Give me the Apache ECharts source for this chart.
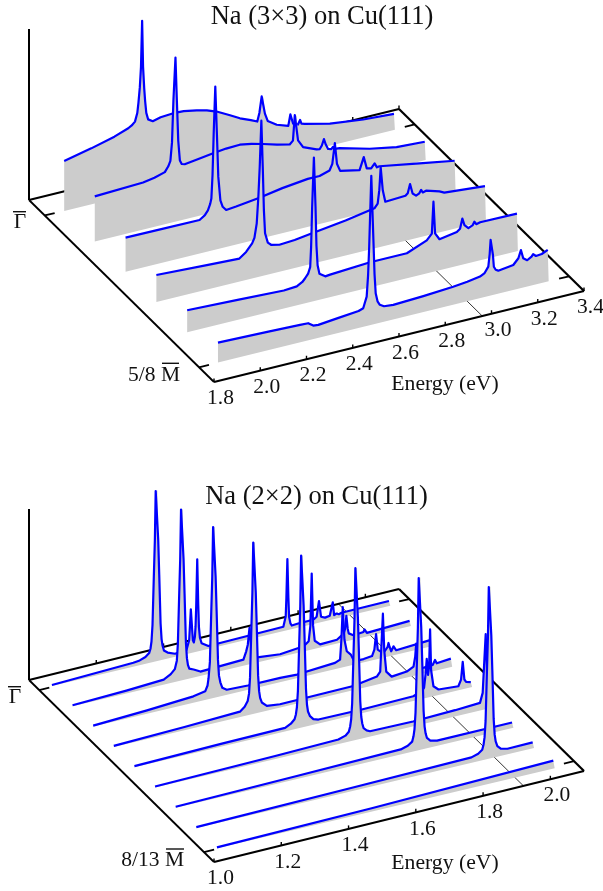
<!DOCTYPE html>
<html>
<head>
<meta charset="utf-8">
<style>html,body{margin:0;padding:0;background:#fff}#chart{width:603px;height:891px}</style>
<script src="https://cdn.jsdelivr.net/npm/echarts@6/dist/echarts.min.js"></script>
</head>
<body>
<div id="chart"></div>
<script>
// each curve is a list of [energy in eV, intensity in a.u.]
var na3x3Curve1 = [[1.883,50],[2.000,56],[2.100,62],[2.160,67],[2.175,69],[2.189,72],[2.199,80],[2.204,90],[2.210,105],[2.215,125],[2.220,171],[2.224,125],[2.229,103],[2.233,90],[2.238,78],[2.246,71],[2.266,68],[2.300,70],[2.355,71],[2.400,70.5],[2.456,68],[2.500,65.5],[2.542,62],[2.600,55],[2.643,49.5],[2.690,45],[2.718,42],[2.727,50],[2.737,66],[2.744,65],[2.751,48],[2.763,40],[2.802,34],[2.852,30],[2.861,41],[2.873,31],[2.894,29],[2.903,33],[2.909,29],[2.916,30],[2.924,28],[3.032,22],[3.176,18],[3.309,16]];
var na3x3Curve2 = [[1.882,45],[2.091,47],[2.140,49],[2.185,52],[2.200,57],[2.209,62],[2.216,80],[2.222,121],[2.231,164],[2.237,121],[2.243,80],[2.250,60],[2.258,56],[2.271,55],[2.330,57],[2.394,59],[2.450,60.5],[2.509,61],[2.560,59],[2.610,56],[2.670,52],[2.725,49],[2.739,52],[2.747,77],[2.755,76],[2.761,51],[2.783,43],[2.841,37.5],[2.855,37],[2.864,40],[2.873,46],[2.881,40],[2.891,35],[2.905,34],[2.912,36],[2.920,33.5],[2.941,33],[3.071,25],[3.187,20],[3.309,18.5]];
var na3x3Curve3 = [[1.882,34],[2.050,33.7],[2.202,33.5],[2.225,37],[2.238,41],[2.248,47],[2.253,52],[2.258,75],[2.263,116],[2.270,163],[2.277,115],[2.283,72],[2.292,48],[2.302,41],[2.317,37],[2.360,38],[2.461,41],[2.560,45],[2.670,48],[2.721,48],[2.764,51],[2.776,57],[2.787,77],[2.796,56],[2.810,48],[2.894,44],[2.912,56],[2.925,44],[2.944,43],[2.959,47],[2.969,42.5],[2.980,43],[3.153,36],[3.305,30]];
var na3x3Curve4 = [[1.882,27],[2.100,24.5],[2.241,23],[2.270,28],[2.296,35],[2.306,40],[2.316,54],[2.323,80],[2.329,110],[2.336,155.5],[2.342,109],[2.347,65],[2.352,42],[2.364,32],[2.378,29],[2.414,27],[2.480,28],[2.544,30],[2.700,35],[2.825,40],[2.839,44],[2.846,57],[2.852,79.5],[2.861,56],[2.872,44],[2.959,45],[2.969,47],[2.979,55.5],[2.990,45.5],[3.005,42.5],[3.019,44],[3.027,47],[3.034,44],[3.048,45],[3.106,41],[3.127,38.5],[3.303,35]];
var na3x3Curve5 = [[1.882,22],[2.100,20],[2.300,18],[2.356,19],[2.380,22],[2.392,25],[2.405,29],[2.414,35],[2.418,55],[2.4225,95],[2.430,143.5],[2.437,94],[2.441,55],[2.446,35],[2.454,26],[2.479,22],[2.500,22.5],[2.673,25],[2.832,25],[2.918,33],[2.940,38.5],[2.947,70],[2.954,38],[2.973,31],[3.048,34],[3.062,36.5],[3.072,46],[3.081,39],[3.098,35],[3.117,37],[3.124,40],[3.132,37],[3.149,38],[3.308,37.5]];
var na3x3Curve6 = [[1.882,20],[2.100,18.5],[2.237,17.5],[2.272,17.2],[2.294,13.6],[2.316,13],[2.400,15],[2.490,17],[2.510,18.6],[2.525,29.4],[2.531,50],[2.536,79],[2.545,149],[2.555,78],[2.559,50],[2.564,30.6],[2.572,22],[2.582,18],[2.600,15.5],[2.640,14.6],[2.770,16],[2.899,18],[2.960,19.5],[3.015,21.6],[3.035,24],[3.051,29.5],[3.057,42],[3.061,55.6],[3.067,55.3],[3.071,40],[3.075,28],[3.083,24.5],[3.094,23],[3.159,25],[3.181,30.5],[3.192,38],[3.202,29.3],[3.219,26.3],[3.238,28.8],[3.245,31],[3.257,28.4],[3.282,29],[3.308,31.6]];

var na2x2Curve1 = [[1.040,1],[1.282,3.3],[1.301,4],[1.318,6],[1.329,9],[1.333,13],[1.336,20],[1.339,36],[1.343,85],[1.346,120],[1.3485,169.5],[1.3535,169.5],[1.356,120],[1.359,85],[1.363,36],[1.366,20],[1.369,13],[1.373,8],[1.384,5],[1.406,2],[1.440,3],[1.448,12],[1.453,42.5],[1.459,11],[1.462,8.7],[1.465,14],[1.467,24],[1.469,45],[1.472,91],[1.475,45],[1.477,23],[1.480,12],[1.485,6],[1.505,1.5],[1.728,2.4],[1.735,12],[1.737,30],[1.740,69],[1.743,30],[1.745,11],[1.749,4],[1.753,1.5],[1.772,2],[1.817,2],[1.827,4.2],[1.834,19.3],[1.840,3.1],[1.852,1.2],[1.866,2],[1.875,14.6],[1.879,1.5],[1.886,2.5],[1.889,4],[1.893,1.2],[1.901,2],[2.042,2.1]];
var na2x2Curve2 = [[1.040,1],[1.200,2.5],[1.311,4.3],[1.332,8],[1.344,12],[1.350,20],[1.353,36],[1.357,85],[1.360,120],[1.3625,170],[1.3675,170],[1.370,120],[1.373,85],[1.377,36],[1.380,20],[1.383,13],[1.387,9],[1.400,7],[1.420,3.3],[1.548,4.6],[1.556,12],[1.561,18.5],[1.566,35],[1.571,16],[1.578,4],[1.657,1],[1.727,3.2],[1.742,7],[1.747,22],[1.751,74],[1.755,22],[1.760,6],[1.776,1],[1.826,1.5],[1.846,6],[1.850,10],[1.854,23],[1.858,10],[1.861,5],[1.875,2],[1.905,2.8],[1.908,5],[1.915,1],[2.042,2.5]];
var na2x2Curve3 = [[1.040,1],[1.200,3],[1.338,5.6],[1.373,7.7],[1.380,13],[1.383,20],[1.387,36],[1.391,85],[1.394,120],[1.3965,170],[1.4015,170],[1.404,120],[1.407,85],[1.411,36],[1.414,20],[1.418,13],[1.424,7],[1.437,4],[1.500,3],[1.596,2.7],[1.646,1.9],[1.759,4.2],[1.774,6.2],[1.778,26],[1.782,58],[1.787,25],[1.794,13],[1.806,8.6],[1.816,1.1],[1.844,1],[1.869,2],[1.876,7.8],[1.881,23],[1.886,7],[1.902,2],[1.915,7],[1.918,11],[1.921,7],[1.926,2],[1.933,6.4],[1.936,5],[1.941,1.8],[2.039,3.6]];
var na2x2Curve4 = [[1.040,1],[1.250,2.5],[1.415,4.2],[1.429,8],[1.438,13],[1.442,20],[1.445,36],[1.449,85],[1.452,120],[1.4545,170],[1.4595,170],[1.462,120],[1.465,85],[1.469,36],[1.472,20],[1.475,13],[1.480,8],[1.495,3.4],[1.534,1.8],[1.752,2],[1.822,5.6],[1.832,9.8],[1.835,31],[1.840,67],[1.844,30],[1.850,8.3],[1.866,1.9],[1.911,3.3],[1.931,6.6],[1.936,16],[1.939,29],[1.943,4],[1.962,3],[1.988,3.5],[1.995,7.9],[2.000,4.2],[2.042,5.4]];
var na2x2Curve5 = [[1.040,1],[1.300,2],[1.488,2.3],[1.505,5],[1.516,8.6],[1.520,13],[1.523,20],[1.526,36],[1.530,85],[1.533,120],[1.5355,170.5],[1.5405,170.5],[1.543,120],[1.546,85],[1.550,36],[1.553,20],[1.556,13],[1.562,7.8],[1.572,4],[1.587,2.4],[1.716,1.8],[1.869,2.3],[1.894,5.3],[1.901,8],[1.906,22.7],[1.909,36.5],[1.913,20],[1.916,28],[1.919,65],[1.922,24],[1.929,7.4],[1.944,2.9],[2.003,1.3],[2.011,7.3],[2.016,24.6],[2.021,6.5],[2.026,3.8],[2.040,2.3]];
var na2x2Curve6 = [[1.040,1],[1.400,2],[1.585,2.9],[1.606,5],[1.616,8],[1.620,13],[1.623,20],[1.626,36],[1.630,85],[1.633,120],[1.6355,170],[1.6405,170],[1.643,120],[1.646,85],[1.650,36],[1.653,20],[1.656,13],[1.660,8],[1.669,5],[1.679,3.4],[1.807,2.5],[1.932,3.5],[2.006,4.7],[2.014,14],[2.018,40],[2.023,72],[2.029,13],[2.040,5]];
var na2x2Curve7 = [[1.040,1],[1.400,2],[1.709,3],[1.730,5],[1.743,8],[1.747,13],[1.750,20],[1.753,36],[1.757,85],[1.760,120],[1.7625,170],[1.7675,170],[1.770,120],[1.773,85],[1.777,36],[1.780,20],[1.783,13],[1.787,8],[1.797,4.5],[1.817,2.8],[2.040,2.5]];
var na2x2Curve8 = [[1.040,1],[1.500,2],[1.858,3],[1.878,5],[1.890,8],[1.894,13],[1.897,20],[1.900,36],[1.904,85],[1.907,120],[1.9095,169],[1.9145,169],[1.917,120],[1.920,85],[1.924,36],[1.927,20],[1.930,13],[1.935,8],[1.945,4.5],[1.965,2.8],[2.040,3]];
var na2x2Curve9 = [[1.040,1],[1.500,2],[2.040,5]];

// momentum position of each curve, 0 = back edge, 1 = front edge
var na3x3K = [0.0865, 0.253, 0.4195, 0.586, 0.7525, 0.919];
var na2x2K = [0.0512, 0.1627, 0.2742, 0.3857, 0.4972, 0.6087, 0.7202, 0.8317, 0.9432];

var na3x3Ticks = [1.8, 2.0, 2.2, 2.4, 2.6, 2.8, 3.0, 3.2, 3.4];
var na2x2Ticks = [1.0, 1.2, 1.4, 1.6, 1.8, 2.0];

var panelTop = {
    title: 'Na (3\u00d73) on Cu(111)', titleX: 322, titleY: 17,
    x0: 29, y0: 200, emin: 1.8, emax: 3.4, ex: 370 / 1.6, ey: -91 / 1.6,
    kTicks: [0.085, 0.919], kTickLen: 0.043, thinE: 2.96, drop: 0, height: 171,
    curves: [na3x3Curve1, na3x3Curve2, na3x3Curve3, na3x3Curve4, na3x3Curve5, na3x3Curve6],
    k: na3x3K, ticks: na3x3Ticks, tickDigits: 1
};
var panelBottom = {
    title: 'Na (2\u00d72) on Cu(111)', titleX: 316.5, titleY: 497,
    x0: 29, y0: 680, emin: 1.0, emax: 2.1, ex: 370 / 1.1, ey: -91 / 1.1,
    kTicks: [0.055, 0.946], kTickLen: 0.03, thinE: 1.92, drop: 3, height: 171,
    curves: [na2x2Curve1, na2x2Curve2, na2x2Curve3, na2x2Curve4, na2x2Curve5, na2x2Curve6, na2x2Curve7, na2x2Curve8, na2x2Curve9],
    k: na2x2K, ticks: na2x2Ticks, tickDigits: 1
};

var KX = 185, KY = 182;
var series = [];
var graphics = [];
var order = 1;

// oblique view: energy runs to the right, k towards the viewer, intensity up
function project(p, e, k, z) {
    return [
        p.x0 + (e - p.emin) * p.ex + k * KX,
        p.y0 + (e - p.emin) * p.ey + k * KY - (z || 0)
    ];
}

function addLine(points, color, width) {
    series.push({
        type: 'line', data: points, symbol: 'none', silent: true, animation: false, clip: false,
        z: order++,
        lineStyle: { color: color, width: width, join: 'round', cap: 'butt' }
    });
}

function addWall(points) {
    series.push({
        type: 'custom', data: points, silent: true, animation: false, clip: false,
        z: order++,
        encode: { x: 0, y: 1 },
        renderItem: function(params, api) {
            if (params.dataIndex > 0) return null;
            return {
                type: 'polygon',
                shape: { points: points.map(function(q) { return api.coord(q); }) },
                style: { fill: '#cccccc' }
            };
        }
    });
}

function addText(text, x, y, size, align) {
    graphics.push({
        type: 'text', x: x, y: y, silent: true,
        style: {
            text: text, fill: '#111', font: size + 'px "Liberation Serif"',
            textAlign: align || 'center', textVerticalAlign: 'middle'
        }
    });
}

function addOverline(x1, x2, y) {
    graphics.push({
        type: 'line', silent: true,
        shape: { x1: x1, y1: y, x2: x2, y2: y },
        style: { stroke: '#111', lineWidth: 1.4 }
    });
}

function drawPanel(p) {
    // thin marker line on the floor, under everything else
    addLine([project(p, p.thinE, 0), project(p, p.thinE, 1)], '#000', 0.8);

    // box
    addLine([project(p, p.emin, 0, p.height), project(p, p.emin, 0)], '#000', 2);
    addLine([project(p, p.emin, 0), project(p, p.emax, 0)], '#000', 2.2);
    addLine([project(p, p.emax, 0), project(p, p.emax, 1)], '#000', 2.2);
    addLine([project(p, p.emin, 0), project(p, p.emin, 1)], '#000', 1.8);
    addLine([project(p, p.emin, 1), project(p, p.emax, 1)], '#000', 2.2);

    // ticks
    p.ticks.forEach(function(t) {
        addLine([project(p, t, 0), project(p, t, 0, 3.5)], '#000', 1.4);
        addLine([project(p, t, 1), project(p, t, 1, 3.5)], '#000', 1.4);
        var pos = project(p, t, 1);
        addText(t.toFixed(p.tickDigits), pos[0] + 6.5, pos[1] + 16.5, 21.5);
    });
    p.kTicks.forEach(function(k) {
        addLine([project(p, p.emin, k), project(p, p.emin + p.kTickLen, k)], '#000', 1.8);
        addLine([project(p, p.emax, k), project(p, p.emax - p.kTickLen, k)], '#000', 1.8);
    });

    // back to front, so nearer walls hide the curves behind them
    p.curves.forEach(function(curve, i) {
        var k = p.k[i];
        var wall = curve.map(function(c) { return project(p, c[0], k, c[1]); });
        wall.push(project(p, curve[curve.length - 1][0] + 0.004, k, -p.drop));
        wall.push(project(p, curve[0][0], k, 0));
        addWall(wall);
        addLine(curve.map(function(c) { return project(p, c[0], k, c[1]); }), '#0000ff', 2.2);
    });

    addText(p.title, p.titleX, p.titleY, 26.5);
}

drawPanel(panelTop);
drawPanel(panelBottom);

addText('Energy (eV)', 445, 384, 21.7);
addText('Energy (eV)', 445, 863, 21.7);
addText('\u0393', 20, 222.5, 21.5);
addOverline(13, 26, 211.7);
addText('\u0393', 15, 697.5, 21.5);
addOverline(8, 21, 686.7);
addText('5/8 M', 180, 375, 21.5, 'right');
addOverline(162, 179, 363.3);
addText('8/13 M', 184, 860, 21.5, 'right');
addOverline(166, 184, 849);

var chart = echarts.init(document.getElementById('chart'), null, { renderer: 'canvas' });
chart.setOption({
    backgroundColor: '#fff',
    animation: false,
    grid: { left: 0, right: 0, top: 0, bottom: 0 },
    xAxis: { type: 'value', min: 0, max: 603, show: false },
    yAxis: { type: 'value', min: 0, max: 891, inverse: true, show: false },
    series: series,
    graphic: graphics
});
</script>
</body>
</html>
